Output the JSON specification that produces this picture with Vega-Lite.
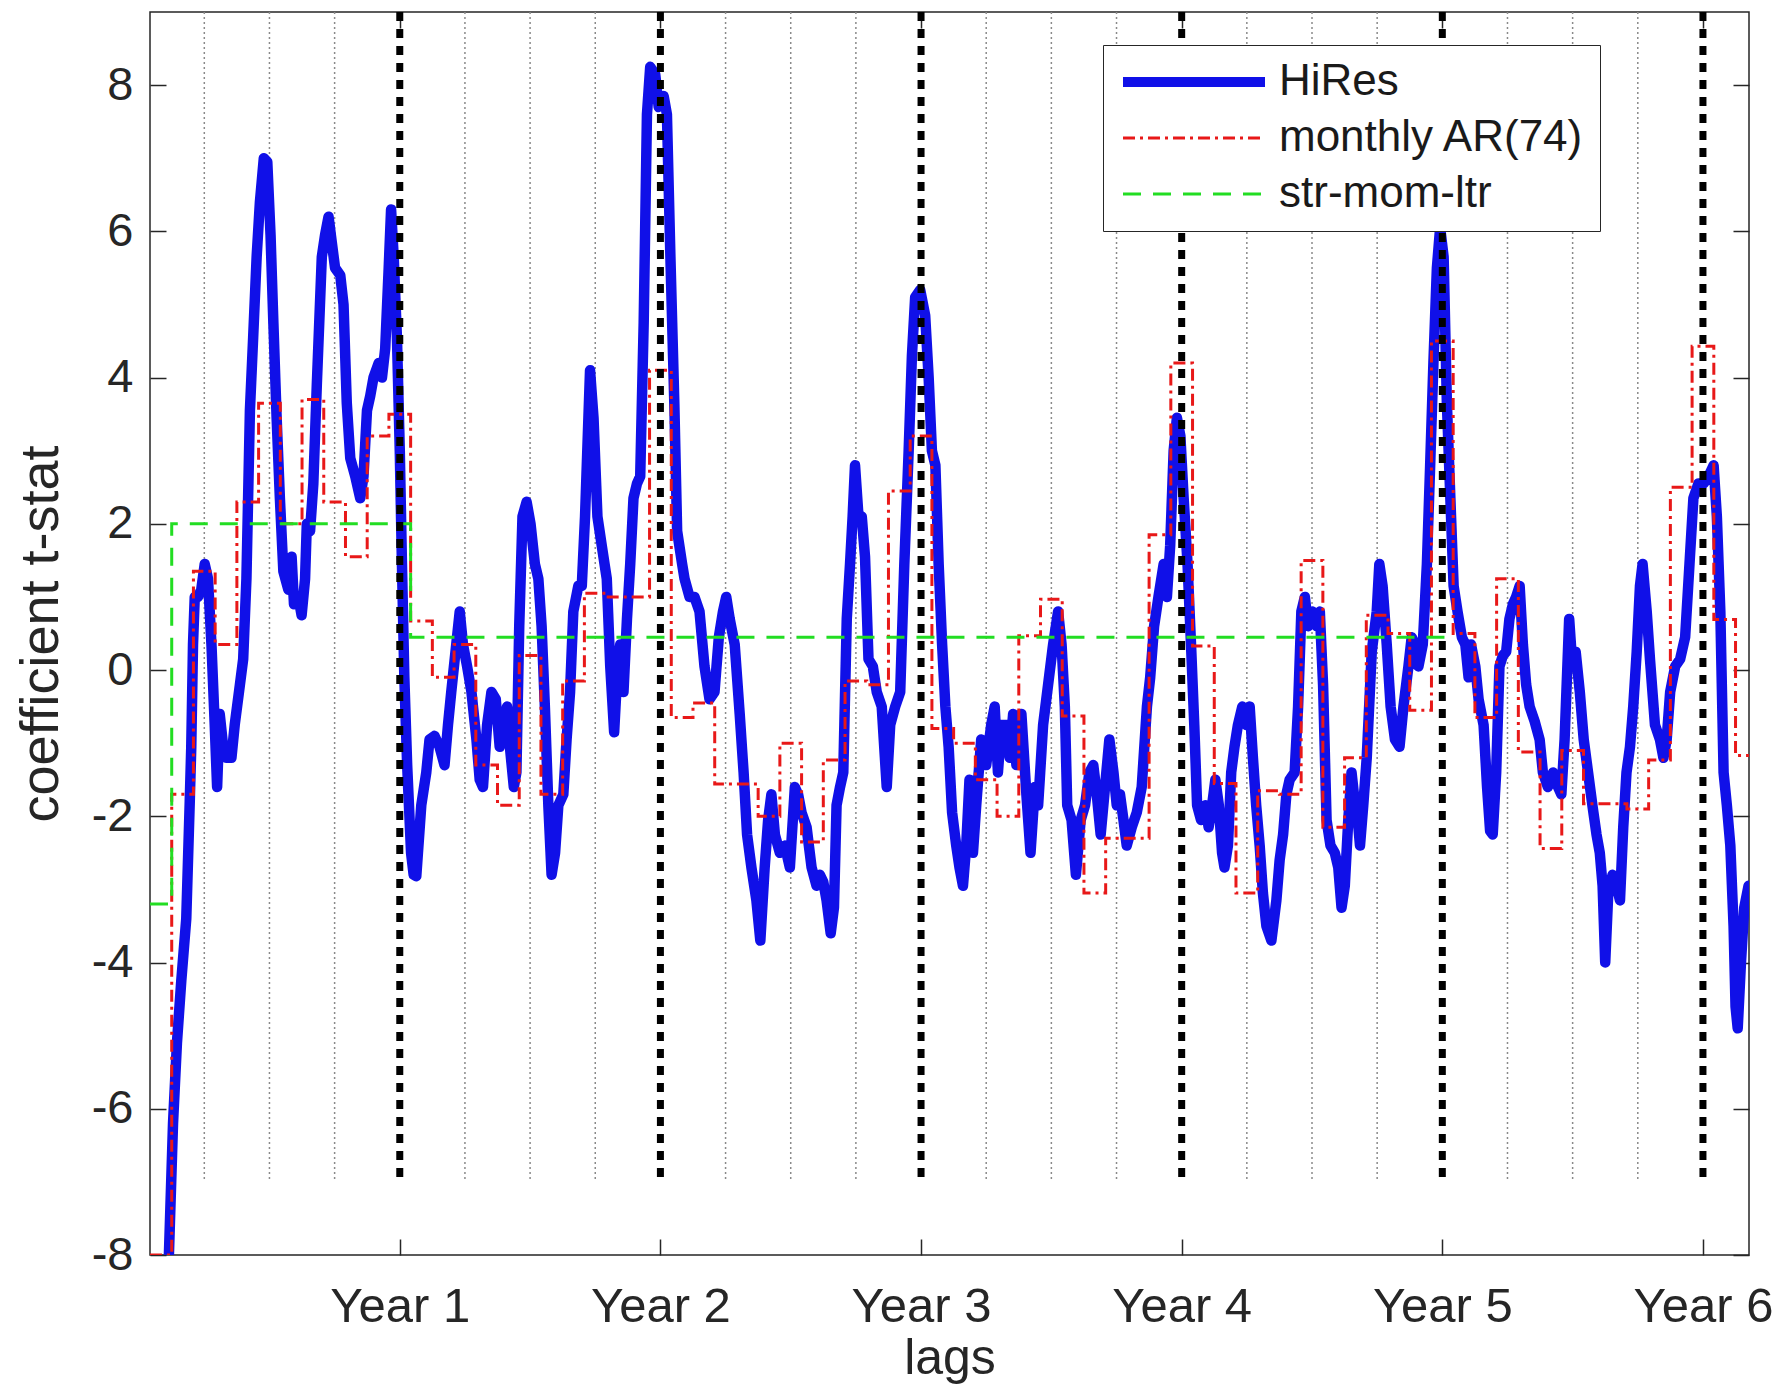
{
  "$schema": "https://vega.github.io/schema/vega-lite/v6.json",
  "width": 1599,
  "height": 1243,
  "autosize": "none",
  "padding": {"left": 150, "top": 12, "right": 34, "bottom": 130},
  "background": "white",
  "config": {
    "view": {"stroke": "#262626", "strokeWidth": 1.5},
    "font": "Liberation Sans",
    "axis": {"labelFont": "Liberation Sans", "titleFont": "Liberation Sans", "labelColor": "#262626", "titleColor": "#262626", "tickColor": "#262626", "tickWidth": 1.5, "grid": false, "domain": false, "titleFontWeight": "normal"}
  },
  "datasets": {
    "hires": [
      {"m":1.25,"v":-8.6},{"m":1.37,"v":-8.0},{"m":1.56,"v":-6.2},{"m":1.74,"v":-5.1},{"m":1.94,"v":-4.25},{"m":2.17,"v":-3.4},{"m":2.33,"v":-1.8},{"m":2.40,"v":-1.05},{"m":2.48,"v":0.35},{"m":2.56,"v":1.0},{"m":2.71,"v":1.0},{"m":2.86,"v":1.1},{"m":3.02,"v":1.45},{"m":3.17,"v":1.25},{"m":3.33,"v":0.35},{"m":3.48,"v":-0.75},{"m":3.59,"v":-1.6},{"m":3.71,"v":-0.6},{"m":3.87,"v":-1.05},{"m":4.02,"v":-1.2},{"m":4.25,"v":-1.2},{"m":4.40,"v":-0.75},{"m":4.64,"v":-0.2},{"m":4.79,"v":0.15},{"m":4.94,"v":1.25},{"m":5.10,"v":3.55},{"m":5.25,"v":4.55},{"m":5.41,"v":5.65},{"m":5.56,"v":6.4},{"m":5.74,"v":7.0},{"m":5.90,"v":6.95},{"m":6.05,"v":5.95},{"m":6.18,"v":4.75},{"m":6.33,"v":3.45},{"m":6.48,"v":2.35},{"m":6.64,"v":1.35},{"m":6.87,"v":1.1},{"m":7.02,"v":1.55},{"m":7.13,"v":0.9},{"m":7.33,"v":1.0},{"m":7.48,"v":0.75},{"m":7.64,"v":1.25},{"m":7.72,"v":2.0},{"m":7.87,"v":1.9},{"m":8.02,"v":2.55},{"m":8.18,"v":3.9},{"m":8.41,"v":5.65},{"m":8.56,"v":5.95},{"m":8.72,"v":6.2},{"m":8.87,"v":5.85},{"m":9.02,"v":5.5},{"m":9.26,"v":5.4},{"m":9.41,"v":5.0},{"m":9.56,"v":3.65},{"m":9.72,"v":2.9},{"m":9.95,"v":2.65},{"m":10.18,"v":2.35},{"m":10.33,"v":2.65},{"m":10.49,"v":3.55},{"m":10.64,"v":3.75},{"m":10.79,"v":4.0},{"m":11.03,"v":4.2},{"m":11.18,"v":4.0},{"m":11.33,"v":4.4},{"m":11.49,"v":5.5},{"m":11.60,"v":6.3},{"m":11.72,"v":5.65},{"m":11.87,"v":4.55},{"m":12.0,"v":3.0},{"m":12.1,"v":1.45},{"m":12.21,"v":-0.1},{"m":12.34,"v":-1.3},{"m":12.52,"v":-2.5},{"m":12.64,"v":-2.8},
      {"m":12.76,"v":-2.82},{"m":12.99,"v":-1.85},{"m":13.22,"v":-1.4},{"m":13.37,"v":-0.95},{"m":13.6,"v":-0.9},{"m":13.83,"v":-1.05},{"m":14.06,"v":-1.3},{"m":14.22,"v":-0.75},{"m":14.37,"v":-0.3},{"m":14.6,"v":0.35},{"m":14.76,"v":0.8},{"m":14.91,"v":0.35},{"m":15.1,"v":0.05},{"m":15.3,"v":-0.3},{"m":15.53,"v":-0.95},{"m":15.68,"v":-1.5},{"m":15.83,"v":-1.6},{"m":16.02,"v":-0.75},{"m":16.22,"v":-0.3},{"m":16.42,"v":-0.4},{"m":16.6,"v":-1.05},{"m":16.76,"v":-0.75},{"m":16.94,"v":-0.5},{"m":17.07,"v":-1.05},{"m":17.25,"v":-1.6},{"m":17.37,"v":-1.4},{"m":17.5,"v":0.6},{"m":17.65,"v":2.1},{"m":17.84,"v":2.3},{"m":18.02,"v":2.0},{"m":18.22,"v":1.45},{"m":18.38,"v":1.25},{"m":18.53,"v":0.6},{"m":18.68,"v":-0.5},{"m":18.84,"v":-1.85},{"m":18.99,"v":-2.8},{"m":19.15,"v":-2.5},{"m":19.3,"v":-1.85},{"m":19.53,"v":-1.7},{"m":19.68,"v":-0.95},{"m":19.84,"v":-0.3},{"m":19.99,"v":0.8},{"m":20.22,"v":1.15},{"m":20.38,"v":1.15},{"m":20.53,"v":2.1},{"m":20.76,"v":4.1},{"m":20.92,"v":3.45},{"m":21.1,"v":2.1},{"m":21.3,"v":1.7},{"m":21.53,"v":1.25},{"m":21.69,"v":0.05},{"m":21.87,"v":-0.85},{"m":22.03,"v":0.05},{"m":22.15,"v":0.35},{"m":22.3,"v":-0.3},{"m":22.46,"v":0.7},{"m":22.61,"v":1.45},{"m":22.76,"v":2.35},{"m":22.92,"v":2.55},{"m":23.07,"v":2.65},{"m":23.23,"v":4.75},{"m":23.38,"v":7.6},{"m":23.53,"v":8.25},{"m":23.76,"v":8.15},{"m":23.92,"v":7.7},{"m":24.15,"v":7.85},{"m":24.3,"v":7.6},{"m":24.46,"v":5.65},{"m":24.64,"v":3.65},{"m":24.77,"v":1.9},{"m":25.0,"v":1.45},
      {"m":25.11,"v":1.25},{"m":25.34,"v":1.0},{"m":25.57,"v":1.0},{"m":25.8,"v":0.8},{"m":26.03,"v":0.05},{"m":26.26,"v":-0.4},{"m":26.49,"v":-0.3},{"m":26.69,"v":0.45},{"m":26.88,"v":0.8},{"m":27.03,"v":1.0},{"m":27.19,"v":0.7},{"m":27.42,"v":0.35},{"m":27.65,"v":-0.6},{"m":27.83,"v":-1.4},{"m":27.99,"v":-2.25},{"m":28.19,"v":-2.7},{"m":28.42,"v":-3.15},{"m":28.6,"v":-3.7},{"m":28.8,"v":-2.7},{"m":28.96,"v":-2.05},{"m":29.11,"v":-1.7},{"m":29.27,"v":-2.25},{"m":29.5,"v":-2.5},{"m":29.73,"v":-2.4},{"m":29.96,"v":-2.7},{"m":30.19,"v":-1.6},{"m":30.34,"v":-1.7},{"m":30.5,"v":-1.95},{"m":30.73,"v":-2.15},{"m":30.96,"v":-2.7},{"m":31.19,"v":-2.95},{"m":31.34,"v":-2.8},{"m":31.5,"v":-2.9},{"m":31.65,"v":-3.15},{"m":31.84,"v":-3.6},{"m":31.99,"v":-3.25},{"m":32.11,"v":-1.85},{"m":32.27,"v":-1.6},{"m":32.42,"v":-1.4},{"m":32.58,"v":0.7},{"m":32.73,"v":1.45},{"m":32.85,"v":2.1},{"m":32.96,"v":2.8},{"m":33.12,"v":2.1},{"m":33.27,"v":2.1},{"m":33.42,"v":1.55},{"m":33.58,"v":0.15},{"m":33.78,"v":0.05},{"m":33.96,"v":-0.3},{"m":34.19,"v":-0.5},{"m":34.42,"v":-1.6},{"m":34.58,"v":-0.75},{"m":34.81,"v":-0.5},{"m":35.04,"v":-0.3},{"m":35.23,"v":1.45},{"m":35.43,"v":3.0},{"m":35.58,"v":4.3},{"m":35.73,"v":5.1},{"m":35.96,"v":5.2},{"m":36.19,"v":4.85},{"m":36.35,"v":4.0},{"m":36.5,"v":3.0},{"m":36.66,"v":2.8},{"m":36.81,"v":1.45},{"m":36.97,"v":0.35},{"m":37.12,"v":-0.5},{"m":37.27,"v":-1.05},{"m":37.43,"v":-1.95},
      {"m":37.62,"v":-2.4},{"m":37.77,"v":-2.7},{"m":37.93,"v":-2.95},{"m":38.08,"v":-2.4},{"m":38.23,"v":-1.5},{"m":38.39,"v":-2.5},{"m":38.54,"v":-1.85},{"m":38.77,"v":-0.95},{"m":39.0,"v":-1.3},{"m":39.23,"v":-0.75},{"m":39.39,"v":-0.5},{"m":39.54,"v":-1.4},{"m":39.7,"v":-0.75},{"m":39.93,"v":-0.75},{"m":40.08,"v":-1.2},{"m":40.24,"v":-0.6},{"m":40.39,"v":-1.3},{"m":40.62,"v":-0.6},{"m":40.85,"v":-1.7},{"m":41.04,"v":-2.5},{"m":41.24,"v":-1.6},{"m":41.39,"v":-1.85},{"m":41.62,"v":-0.75},{"m":41.85,"v":-0.2},{"m":42.08,"v":0.35},{"m":42.31,"v":0.8},{"m":42.47,"v":0.35},{"m":42.62,"v":-0.5},{"m":42.73,"v":-1.85},{"m":42.93,"v":-2.05},{"m":43.13,"v":-2.8},{"m":43.35,"v":-2.05},{"m":43.55,"v":-1.85},{"m":43.75,"v":-1.4},{"m":43.93,"v":-1.3},{"m":44.09,"v":-1.7},{"m":44.27,"v":-2.25},{"m":44.47,"v":-1.6},{"m":44.67,"v":-0.95},{"m":44.86,"v":-1.4},{"m":45.01,"v":-1.85},{"m":45.16,"v":-1.7},{"m":45.32,"v":-2.05},{"m":45.47,"v":-2.4},{"m":45.7,"v":-2.15},{"m":45.93,"v":-1.95},{"m":46.16,"v":-1.6},{"m":46.4,"v":-0.5},{"m":46.55,"v":-0.1},{"m":46.73,"v":0.6},{"m":46.93,"v":1.0},{"m":47.17,"v":1.45},{"m":47.32,"v":1.0},{"m":47.47,"v":1.7},{"m":47.63,"v":3.0},{"m":47.78,"v":3.45},{"m":47.94,"v":3.2},{"m":48.09,"v":2.35},{"m":48.27,"v":1.45},{"m":48.43,"v":0.35},{"m":48.58,"v":-0.75},{"m":48.71,"v":-1.85},{"m":48.89,"v":-2.05},{"m":49.09,"v":-1.85},{"m":49.24,"v":-2.15},{"m":49.4,"v":-1.85},{"m":49.55,"v":-1.5},{"m":49.71,"v":-1.85},{"m":49.86,"v":-2.5},
      {"m":49.97,"v":-2.7},{"m":50.13,"v":-2.4},{"m":50.28,"v":-1.4},{"m":50.43,"v":-1.05},{"m":50.59,"v":-0.75},{"m":50.79,"v":-0.5},{"m":50.97,"v":-0.75},{"m":51.13,"v":-0.5},{"m":51.28,"v":-1.2},{"m":51.43,"v":-1.85},{"m":51.59,"v":-2.4},{"m":51.74,"v":-3.05},{"m":51.9,"v":-3.5},{"m":52.13,"v":-3.7},{"m":52.36,"v":-3.15},{"m":52.51,"v":-2.6},{"m":52.67,"v":-2.25},{"m":52.82,"v":-1.7},{"m":52.97,"v":-1.5},{"m":53.2,"v":-1.4},{"m":53.36,"v":-0.5},{"m":53.51,"v":0.8},{"m":53.67,"v":1.0},{"m":53.82,"v":0.6},{"m":54.02,"v":0.8},{"m":54.21,"v":0.6},{"m":54.36,"v":0.8},{"m":54.51,"v":-0.2},{"m":54.67,"v":-2.05},{"m":54.85,"v":-2.4},{"m":55.05,"v":-2.5},{"m":55.21,"v":-2.7},{"m":55.36,"v":-3.25},{"m":55.51,"v":-2.95},{"m":55.67,"v":-2.05},{"m":55.82,"v":-1.4},{"m":55.93,"v":-1.7},{"m":56.05,"v":-1.85},{"m":56.21,"v":-2.4},{"m":56.36,"v":-1.85},{"m":56.52,"v":-1.2},{"m":56.75,"v":0.25},{"m":56.98,"v":0.8},{"m":57.1,"v":1.45},{"m":57.25,"v":1.15},{"m":57.44,"v":0.35},{"m":57.62,"v":-0.5},{"m":57.82,"v":-0.95},{"m":58.03,"v":-1.05},{"m":58.21,"v":-0.5},{"m":58.44,"v":0.05},{"m":58.59,"v":0.45},{"m":58.75,"v":0.35},{"m":58.9,"v":0.05},{"m":59.1,"v":0.35},{"m":59.29,"v":1.45},{"m":59.44,"v":2.8},{"m":59.59,"v":4.2},{"m":59.75,"v":5.5},{"m":59.9,"v":6.05},{"m":60.06,"v":5.65},{"m":60.21,"v":3.65},{"m":60.37,"v":2.35},{"m":60.52,"v":1.15},{"m":60.7,"v":0.8},{"m":60.9,"v":0.45},{"m":61.06,"v":0.35},{"m":61.21,"v":-0.1},{"m":61.32,"v":0.35},{"m":61.52,"v":0.05},{"m":61.67,"v":-0.4},{"m":61.9,"v":-0.75},{"m":62.06,"v":-1.6},{"m":62.2,"v":-2.2},
      {"m":62.32,"v":-2.25},{"m":62.48,"v":-1.4},{"m":62.63,"v":0.05},{"m":62.79,"v":0.2},{"m":62.94,"v":0.25},{"m":63.09,"v":0.7},{"m":63.25,"v":0.9},{"m":63.4,"v":1.0},{"m":63.56,"v":1.15},{"m":63.71,"v":0.35},{"m":63.86,"v":-0.2},{"m":64.02,"v":-0.5},{"m":64.25,"v":-0.7},{"m":64.48,"v":-0.95},{"m":64.63,"v":-1.4},{"m":64.86,"v":-1.6},{"m":65.1,"v":-1.4},{"m":65.33,"v":-1.6},{"m":65.48,"v":-1.7},{"m":65.63,"v":-0.95},{"m":65.84,"v":0.7},{"m":65.99,"v":0.05},{"m":66.14,"v":0.25},{"m":66.33,"v":-0.3},{"m":66.51,"v":-0.95},{"m":66.71,"v":-1.4},{"m":66.91,"v":-1.85},{"m":67.1,"v":-2.25},{"m":67.25,"v":-2.5},{"m":67.38,"v":-2.95},{"m":67.5,"v":-4.0},{"m":67.64,"v":-3.05},{"m":67.84,"v":-2.8},{"m":68.02,"v":-2.95},{"m":68.18,"v":-3.15},{"m":68.33,"v":-2.15},{"m":68.48,"v":-1.4},{"m":68.64,"v":-1.05},{"m":68.79,"v":-0.5},{"m":68.95,"v":0.25},{"m":69.1,"v":1.15},{"m":69.22,"v":1.45},{"m":69.41,"v":0.8},{"m":69.56,"v":0.15},{"m":69.79,"v":-0.75},{"m":70.02,"v":-0.95},{"m":70.18,"v":-1.2},{"m":70.33,"v":-0.95},{"m":70.49,"v":-0.3},{"m":70.72,"v":0.05},{"m":70.95,"v":0.15},{"m":71.18,"v":0.45},{"m":71.38,"v":1.45},{"m":71.56,"v":2.35},{"m":71.79,"v":2.55},{"m":72.03,"v":2.55},{"m":72.26,"v":2.65},{"m":72.49,"v":2.8},{"m":72.64,"v":2.1},{"m":72.8,"v":0.8},{"m":72.95,"v":-1.4},{"m":73.1,"v":-1.85},{"m":73.26,"v":-2.4},{"m":73.41,"v":-3.5},{"m":73.5,"v":-4.6},{"m":73.6,"v":-4.9},{"m":73.75,"v":-4.0},{"m":73.9,"v":-3.25},{"m":74.1,"v":-2.95}
    ],
    "ar": [
      {"m":0.5,"v":-8.0},{"m":1.5,"v":-1.7},{"m":2.5,"v":1.35},{"m":3.5,"v":0.35},{"m":4.5,"v":2.3},{"m":5.5,"v":3.65},{"m":6.5,"v":2.0},{"m":7.5,"v":3.7},{"m":8.5,"v":2.3},{"m":9.5,"v":1.55},{"m":10.5,"v":3.2},{"m":11.5,"v":3.5},
      {"m":12.5,"v":0.67},{"m":13.5,"v":-0.1},{"m":14.5,"v":0.35},{"m":15.5,"v":-1.3},{"m":16.5,"v":-1.85},{"m":17.5,"v":0.2},{"m":18.5,"v":-1.7},{"m":19.5,"v":-0.15},{"m":20.5,"v":1.05},{"m":21.5,"v":1.0},{"m":22.5,"v":1.0},{"m":23.5,"v":4.1},
      {"m":24.5,"v":-0.65},{"m":25.5,"v":-0.45},{"m":26.5,"v":-1.56},{"m":27.5,"v":-1.56},{"m":28.5,"v":-2.0},{"m":29.5,"v":-1.0},{"m":30.5,"v":-2.35},{"m":31.5,"v":-1.23},{"m":32.5,"v":-0.15},{"m":33.5,"v":-0.2},{"m":34.5,"v":2.45},{"m":35.5,"v":3.2},
      {"m":36.5,"v":-0.8},{"m":37.5,"v":-1.0},{"m":38.5,"v":-1.5},{"m":39.5,"v":-2.0},{"m":40.5,"v":0.47},{"m":41.5,"v":0.97},{"m":42.5,"v":-0.63},{"m":43.5,"v":-3.05},{"m":44.5,"v":-2.3},{"m":45.5,"v":-2.3},{"m":46.5,"v":1.85},{"m":47.5,"v":4.2},
      {"m":48.5,"v":0.33},{"m":49.5,"v":-1.55},{"m":50.5,"v":-3.05},{"m":51.5,"v":-1.65},{"m":52.5,"v":-1.7},{"m":53.5,"v":1.5},{"m":54.5,"v":-2.15},{"m":55.5,"v":-1.2},{"m":56.5,"v":0.75},{"m":57.5,"v":0.5},{"m":58.5,"v":-0.55},{"m":59.5,"v":4.5},
      {"m":60.5,"v":0.5},{"m":61.5,"v":-0.65},{"m":62.5,"v":1.25},{"m":63.5,"v":-1.12},{"m":64.5,"v":-2.44},{"m":65.5,"v":-1.1},{"m":66.5,"v":-1.83},{"m":67.5,"v":-1.83},{"m":68.5,"v":-1.9},{"m":69.5,"v":-1.23},{"m":70.5,"v":2.5},{"m":71.5,"v":4.43},
      {"m":72.5,"v":0.69},{"m":73.5,"v":-1.17},{"m":74.5,"v":-1.17}
    ],
    "smr": [
      {"m":0.5,"v":-3.2},{"m":1.5,"v":2.0},{"m":12.5,"v":0.45},{"m":60.5,"v":0.45}
    ],
    "quarters": [
      {"m":3},{"m":6},{"m":9},{"m":15},{"m":18},{"m":21},{"m":27},{"m":30},{"m":33},{"m":39},{"m":42},{"m":45},{"m":51},{"m":54},{"m":57},{"m":63},{"m":66},{"m":69}
    ],
    "years": [
      {"m":12},{"m":24},{"m":36},{"m":48},{"m":60},{"m":72}
    ]
  },
  "layer": [
    {
      "data": {"name": "quarters"},
      "mark": {"type": "rule", "color": "#8a8a8a", "strokeWidth": 1.5, "strokeDash": [2, 3]},
      "encoding": {
        "x": {"field": "m", "type": "quantitative", "scale": {"domain": [0.5, 74.12], "nice": false, "zero": false}, "axis": null},
        "y": {"datum": 9, "type": "quantitative", "scale": {"domain": [-8, 9], "nice": false, "zero": false}, "axis": null},
        "y2": {"datum": -7}
      }
    },
    {
      "mark": {"type": "rule", "color": "#262626", "strokeWidth": 1.5},
      "encoding": {"y": {"datum": 0, "type": "quantitative", "axis": null}}
    },
    {
      "data": {"name": "hires"},
      "mark": {"type": "line", "strokeWidth": 10.5, "strokeJoin": "round", "strokeCap": "round", "clip": true},
      "encoding": {
        "x": {"field": "m", "type": "quantitative", "axis": {"orient": "bottom", "values": [12, 24, 36, 48, 60, 72], "labelExpr": "'Year ' + (datum.value / 12)", "labelFontSize": 49, "labelPadding": 43, "tickSize": -16, "title": "lags", "titleFontSize": 50, "titlePadding": 2}},
        "y": {"field": "v", "type": "quantitative", "axis": {"orient": "left", "values": [-8, -6, -4, -2, 0, 2, 4, 6, 8], "labelExpr": "datum.value < 0 ? '-' + (-datum.value) : '' + datum.value", "labelFontSize": 47, "labelPadding": 33, "tickSize": -16, "title": "coefficient t-stat", "titleFontSize": 54, "titlePadding": 23}},
        "color": {
          "datum": "HiRes", "type": "nominal",
          "scale": {"domain": ["HiRes", "monthly AR(74)", "str-mom-ltr"], "range": ["#1010e8", "#e81818", "#22dd22"]},
          "legend": {
            "title": null, "orient": "none", "legendX": 953, "legendY": 33,
            "symbolType": "stroke", "symbolSize": 20164, "symbolOffset": 54, "labelFontSize": 44, "labelColor": "#1a1a1a", "labelFont": "Liberation Sans", "labelLimit": 0,
            "fillColor": "white", "strokeColor": "#262626", "padding": 15, "rowPadding": 12, "labelOffset": 63,
            "encode": {"symbols": {"update": {
              "strokeWidth": {"signal": "datum.value === 'HiRes' ? 10 : 3"},
              "strokeDash": {"signal": "datum.value === 'HiRes' ? [1, 0] : (datum.value === 'monthly AR(74)' ? [12, 5, 3, 5] : [18, 12])"}
            }}}
          }
        }
      }
    },
    {
      "data": {"name": "ar"},
      "mark": {"type": "line", "interpolate": "step-after", "strokeWidth": 3, "strokeDash": [12, 5, 3, 5], "clip": true},
      "encoding": {
        "x": {"field": "m", "type": "quantitative", "axis": {"orient": "top", "values": [12, 24, 36, 48, 60, 72], "labels": false, "tickSize": -16, "title": null}},
        "y": {"field": "v", "type": "quantitative", "axis": {"orient": "right", "values": [-8, -6, -4, -2, 0, 2, 4, 6, 8], "labels": false, "tickSize": -16, "title": null}},
        "color": {"datum": "monthly AR(74)", "type": "nominal"}
      }
    },
    {
      "data": {"name": "smr"},
      "mark": {"type": "line", "interpolate": "step-after", "strokeWidth": 3, "strokeDash": [18, 12], "clip": true},
      "encoding": {
        "x": {"field": "m", "type": "quantitative", "axis": null},
        "y": {"field": "v", "type": "quantitative", "axis": null},
        "color": {"datum": "str-mom-ltr", "type": "nominal"}
      }
    },
    {
      "data": {"name": "years"},
      "mark": {"type": "rule", "color": "black", "strokeWidth": 7, "strokeDash": [9, 8]},
      "encoding": {
        "x": {"field": "m", "type": "quantitative", "axis": null},
        "y": {"datum": 9, "type": "quantitative", "axis": null},
        "y2": {"datum": -7}
      }
    }
  ],
  "resolve": {"axis": {"x": "independent", "y": "independent"}}
}
